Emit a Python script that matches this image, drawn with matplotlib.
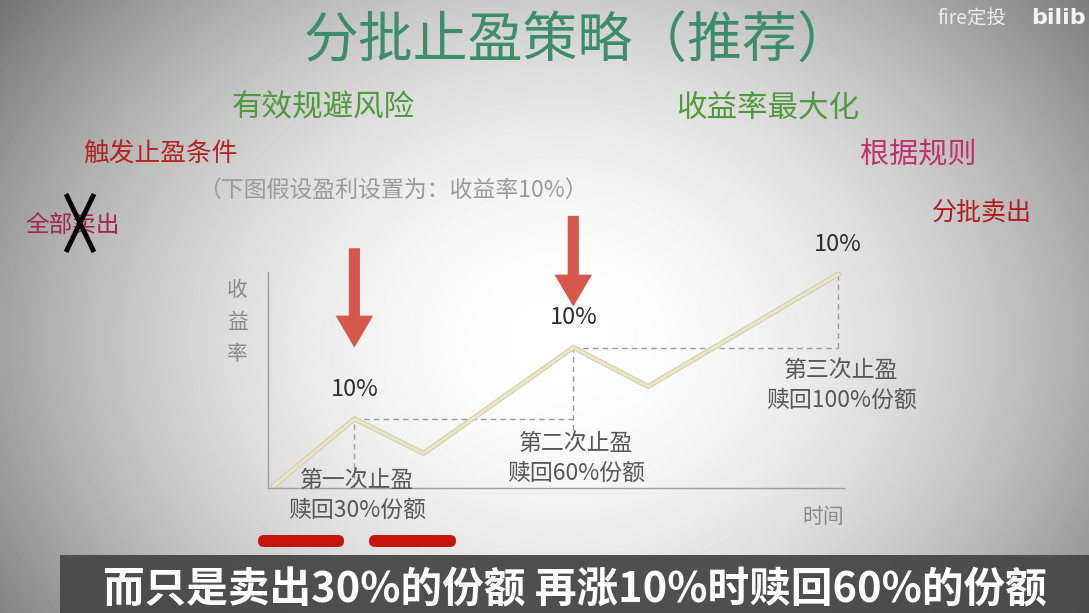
import numpy as np
import matplotlib
matplotlib.use('Agg')
import matplotlib.pyplot as plt
import matplotlib.patheffects as pe
from matplotlib.patches import FancyArrowPatch, FancyBboxPatch, Rectangle

plt.rcParams['font.family'] = ['Noto Sans CJK SC', 'DejaVu Sans']

W, H = 1089, 613

# ---------------- data ----------------
time = [0.1, 1.5, 2.7, 5.3, 6.6, 9.9]
returns = [0.1, 3.2, 1.6, 6.5, 4.7, 9.9]
peak_idx = [1, 3, 5]
peak_labels = ['10%', '10%', '10%']
stage_titles = ['第一次止盈', '第二次止盈', '第三次止盈']
stage_redeem = ['赎回30%份额', '赎回60%份额', '赎回100%份额']
arrow_tops = [11.1, 12.6]          # arrows over first two peaks
y_label = '收益率'
x_label = '时间'
title = '分批止盈策略（推荐）'
subtitle = '而只是卖出30%的份额 再涨10%时赎回60%的份额'

fig = plt.figure(figsize=(W / 100, H / 100), dpi=100)

# ---------------- background overlay (pixel coords) ----------------
bg = fig.add_axes([0, 0, 1, 1])
bg.set_xlim(0, W)
bg.set_ylim(H, 0)
bg.axis('off')
yy, xx = np.mgrid[0:H, 0:W]
r = np.sqrt(((xx - 560) / 580.0) ** 2 + ((yy - 340) / 480.0) ** 2)
val = np.clip(255 - 100 * r ** 1.9, 90, 255) / 255.0
bg.imshow(val, cmap='gray', vmin=0, vmax=1, extent=(0, W, H, 0), aspect='auto', zorder=0)

# title and side texts
bg.text(578, 42, title, ha='center', va='center', fontsize=39.5, fontweight='medium',
        color='#3d8c6a', zorder=3)
bg.text(323, 108, '有效规避风险', ha='center', va='center', fontsize=22, color='#4f9a3c', zorder=3)
bg.text(768, 108, '收益率最大化', ha='center', va='center', fontsize=22, color='#4f9a3c', zorder=3)
bg.text(160, 155, '触发止盈条件', ha='center', va='center', fontsize=18.5, color='#b42222', zorder=3)
bg.text(918, 155, '根据规则', ha='center', va='center', fontsize=21, color='#c2306a', zorder=3)
bg.text(393, 190, '（下图假设盈利设置为：收益率10%）', ha='center', va='center', fontsize=16.5,
        color='#9a9a9a', zorder=3)
bg.text(73, 226, '全部卖出', ha='center', va='center', fontsize=17, color='#a3264a', zorder=3)
bg.plot([66, 94], [194, 252], color='black', lw=3.5, zorder=4, solid_capstyle='butt')
bg.plot([94, 66], [194, 252], color='black', lw=3.5, zorder=4, solid_capstyle='butt')
bg.text(982, 213, '分批卖出', ha='center', va='center', fontsize=18, color='#b51a1a', zorder=3)

# watermark
bg.text(972, 18, 'fire定投', ha='center', va='center', fontsize=14, color='#ececec', zorder=3)
bg.text(1031, 18, 'bilib', ha='left', va='center', fontsize=16, fontweight='bold',
        color='#f4f4f4', family='DejaVu Sans', zorder=3)

# red underline marks
for x0, x1 in [(258, 344), (369, 456)]:
    bg.add_patch(FancyBboxPatch((x0, 535), x1 - x0, 12,
                                boxstyle='round,pad=0,rounding_size=6',
                                fc='#c4140e', ec='none', zorder=3))

# subtitle bar
bg.add_patch(Rectangle((60, 555), W - 60, H - 555, fc='#474747', ec='none', alpha=0.95, zorder=5))
bg.text(575, 590, subtitle, ha='center', va='center', fontsize=30, fontweight='bold',
        color='white', zorder=6)

# ---------------- chart axes ----------------
x0p, x1p, y0p, y1p = 268, 844, 272, 488
ax = fig.add_axes([x0p / W, 1 - y1p / H, (x1p - x0p) / W, (y1p - y0p) / H])
ax.set_xlim(0, 10)
ax.set_ylim(0, 10)
ax.patch.set_alpha(0)
for s in ['top', 'right']:
    ax.spines[s].set_visible(False)
for s in ['left', 'bottom']:
    ax.spines[s].set_color('#9e9e9e')
    ax.spines[s].set_linewidth(1.0)
ax.set_xticks([])
ax.set_yticks([])

ax.plot(time, returns, color='#ebe6c6', lw=2.2, solid_joinstyle='miter', zorder=3,
        path_effects=[pe.Stroke(linewidth=3.6, foreground='#d0cbad'), pe.Normal()])

dash = dict(color='#9a9a9a', lw=1.0, ls=(0, (4, 3)), zorder=2)
p1, p2, p3 = peak_idx
ax.plot([time[p1], time[p1]], [0, returns[p1]], **dash)
ax.plot([time[p1], time[p2]], [returns[p1], returns[p1]], **dash)
ax.plot([time[p2], time[p2]], [2.7, returns[p2]], **dash)
ax.plot([time[p2], time[p3]], [returns[p2], returns[p2]], **dash)
ax.plot([time[p3], time[p3]], [returns[p2], returns[p3]], **dash)

# peak labels
for i, lab in zip(peak_idx, peak_labels):
    ax.annotate(lab, (time[i], returns[i]), xytext=(0, 21.5), textcoords='offset points',
                ha='center', va='center', fontsize=17, fontweight='medium', color='#2e2e2e',
                annotation_clip=False)

# stage labels
stage_offsets = [(-44, -65.5), (-69, -90.5), (-69, -90.5)]
for i, t1, t2, (o1, o2) in zip(peak_idx, stage_titles, stage_redeem, stage_offsets):
    ax.annotate(t1, (time[i], returns[i]), xytext=(2, o1), textcoords='offset points',
                ha='center', va='center', fontsize=16.5, color='#575757', annotation_clip=False)
    ax.annotate(t2, (time[i], returns[i]), xytext=(2, o2), textcoords='offset points',
                ha='center', va='center', fontsize=16.5, color='#575757', annotation_clip=False)

# red arrows
for i, top in zip(peak_idx[:2], arrow_tops):
    tip = returns[i] + (3.3 if i == p1 else 1.9)
    arr = FancyArrowPatch((time[i], top), (time[i], tip),
                          arrowstyle='simple,head_length=2.3,head_width=2.7,tail_width=0.8',
                          mutation_scale=10, shrinkA=0, shrinkB=0,
                          fc='#d6574b', ec='none', clip_on=False, zorder=5)
    ax.add_patch(arr)

# axis labels
for k, ch in enumerate(y_label):
    ax.annotate(ch, (0, 10), xytext=(-22, -13 - 23 * k), textcoords='offset points',
                ha='center', va='center', fontsize=15, color='#8a8a8a', annotation_clip=False)
ax.annotate(x_label, (10, 0), xytext=(-15, -21), textcoords='offset points',
            ha='center', va='center', fontsize=15, color='#8a8a8a', annotation_clip=False)

fig.savefig('out.png', dpi=100)
